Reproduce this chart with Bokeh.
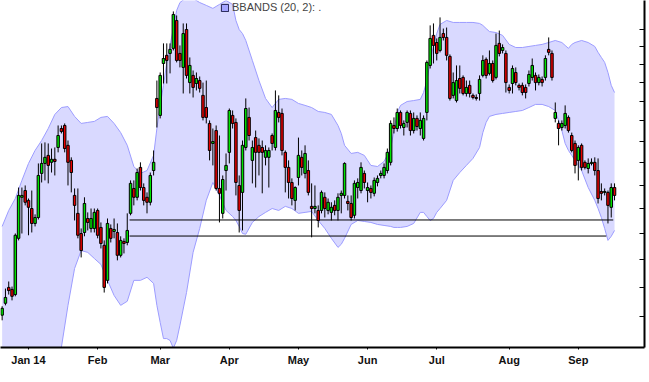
from bokeh.plotting import figure
from bokeh.models import Range1d, FixedTicker, Legend, LegendItem, ColumnDataSource
from bokeh.embed import file_html
from bokeh.resources import INLINE

# trading-day index (0 = 2 Jan 2014)
days = list(range(-8, 179))

opens = [16.04, 16.44, 16.99, 16.92, 16.74, 18.81, 20.48, 20.77,
         20.35, 20.01, 19.40, 19.64, 21.52, 21.97, 22.34, 22.02, 22.16, 22.71,
         23.62, 23.77, 22.81, 22.11, 20.56, 19.81, 19.00, 19.04, 19.60, 19.20,
         19.20, 19.93, 19.24, 18.54, 17.24, 19.20, 19.08, 19.04, 18.16, 18.69,
         18.65, 19.81, 20.86, 20.48, 21.79, 20.90, 20.48, 20.27, 21.65, 25.14,
         24.27, 27.03, 27.49, 27.60, 27.89, 29.55, 27.60, 26.81, 29.00, 25.98,
         26.37, 25.93, 26.09, 25.30, 24.67, 23.87, 22.90, 23.52, 20.86, 19.81,
         21.65, 22.48, 24.27, 23.92, 20.99, 20.69, 22.71, 24.17, 22.11, 23.18,
         22.81, 22.71, 22.25, 22.25, 23.28, 22.71, 24.42, 24.37, 22.48, 21.79,
         21.12, 20.35, 21.34, 22.25, 21.52, 21.65, 20.10, 20.01, 19.93, 19.93,
         20.48, 19.93, 19.85, 20.14, 19.93, 20.56, 20.56, 20.31, 20.22, 19.73,
         20.90, 20.77, 21.52, 20.77, 20.86, 20.65, 21.12, 21.43, 21.43, 21.65,
         22.02, 23.77, 23.62, 24.42, 23.67, 23.92, 24.37, 23.52, 24.12, 23.62,
         23.14, 24.42, 26.92, 28.65, 28.23, 27.77, 28.76, 28.53, 27.43, 25.30,
         25.03, 26.20, 26.26, 25.40, 25.83, 25.30, 25.19, 25.40, 26.37, 27.26,
         26.48, 27.03, 26.26, 28.18, 27.77, 27.60, 25.72, 25.93, 26.53, 25.83,
         25.83, 25.72, 25.93, 26.26, 26.37, 25.98, 26.15, 26.26, 27.83, 27.60,
         24.12, 23.87, 23.67, 23.77, 24.17, 23.28, 22.90, 22.11, 22.81, 22.02,
         21.74, 21.97, 22.02, 21.65, 20.73, 20.69, 20.69, 20.06, 20.90]

highs = [16.34, 16.95, 17.20, 17.02, 19.00, 20.90, 20.90, 20.99,
         20.43, 20.77, 19.77, 21.97, 22.90, 22.95, 22.90, 22.66, 22.71, 23.77,
         23.77, 23.87, 23.04, 22.25, 20.86, 20.86, 19.20, 20.48, 19.85, 20.01,
         20.01, 20.01, 19.44, 18.73, 19.60, 19.36, 19.60, 19.40, 18.89, 18.81,
         19.81, 21.21, 21.21, 21.74, 22.02, 21.08, 20.69, 21.56, 22.57, 26.09,
         26.53, 28.18, 28.18, 28.18, 30.11, 29.86, 28.06, 29.37, 29.37, 27.37,
         26.64, 26.53, 26.31, 25.98, 26.09, 24.02, 23.62, 23.77, 23.28, 21.43,
         22.43, 24.62, 24.52, 24.12, 21.43, 23.04, 25.14, 24.67, 23.04, 23.52,
         23.14, 23.04, 22.81, 22.71, 23.38, 25.56, 25.30, 24.62, 22.57, 22.11,
         21.30, 20.95, 23.18, 22.57, 22.81, 22.11, 21.08, 20.99, 20.14, 20.77,
         20.69, 20.43, 20.27, 20.35, 20.65, 20.77, 22.02, 20.56, 20.56, 21.21,
         21.30, 22.02, 21.65, 21.12, 20.99, 21.34, 21.43, 21.65, 21.97, 22.66,
         24.02, 24.17, 24.62, 24.52, 24.02, 24.52, 24.52, 24.42, 24.27, 24.42,
         24.27, 27.20, 29.25, 29.37, 28.47, 29.74, 29.06, 29.12, 27.54, 26.53,
         26.92, 26.92, 26.37, 26.09, 26.09, 25.40, 25.35, 26.37, 27.49, 27.37,
         27.77, 27.20, 28.76, 28.94, 28.12, 27.77, 25.88, 26.92, 26.81, 25.93,
         25.98, 25.88, 26.64, 27.31, 26.53, 26.42, 26.31, 27.49, 28.53, 27.77,
         24.93, 24.02, 24.02, 24.78, 24.27, 23.42, 23.04, 22.81, 22.90, 22.11,
         22.20, 22.20, 22.25, 22.20, 21.08, 20.86, 20.77, 21.08, 21.08]

lows = [15.87, 16.37, 16.74, 16.54, 16.68, 18.73, 19.00, 20.14,
        18.93, 19.04, 19.28, 19.56, 21.12, 21.21, 21.08, 21.56, 21.43, 22.48,
        23.38, 22.48, 20.99, 20.69, 19.52, 18.81, 18.08, 18.89, 19.12, 19.04,
        19.04, 18.81, 18.42, 16.81, 17.13, 18.65, 18.81, 17.97, 18.08, 18.23,
        18.54, 19.73, 20.14, 20.35, 20.77, 20.14, 19.81, 20.14, 21.43, 23.67,
        24.12, 25.93, 25.93, 26.48, 27.77, 27.09, 26.81, 25.40, 26.20, 25.40,
        25.19, 25.56, 25.45, 24.02, 23.87, 22.11, 21.88, 20.77, 19.44, 19.60,
        20.77, 21.97, 23.62, 20.56, 19.04, 19.12, 22.57, 23.04, 21.08, 20.90,
        21.43, 20.65, 21.88, 20.90, 22.57, 22.57, 23.92, 22.34, 20.69, 20.43,
        20.14, 19.93, 20.99, 21.43, 21.30, 20.56, 18.85, 19.81, 19.24, 19.81,
        19.64, 19.77, 19.52, 19.73, 19.52, 19.81, 20.43, 19.93, 19.52, 19.60,
        20.43, 20.65, 20.86, 20.27, 20.43, 20.52, 20.95, 21.30, 21.30, 21.52,
        21.88, 23.38, 23.47, 23.62, 23.28, 23.67, 23.28, 23.38, 23.52, 23.28,
        23.04, 24.02, 26.75, 27.03, 27.20, 27.66, 28.35, 27.20, 25.03, 25.14,
        24.93, 25.40, 25.30, 25.24, 25.19, 25.09, 25.03, 25.03, 26.26, 26.20,
        26.37, 25.98, 26.15, 27.43, 27.60, 25.45, 25.40, 25.40, 25.83, 25.56,
        25.30, 25.14, 25.77, 26.09, 25.56, 25.83, 25.77, 26.09, 27.49, 26.09,
        23.92, 22.81, 23.52, 23.62, 23.42, 22.48, 21.52, 21.21, 21.65, 21.70,
        21.52, 21.88, 21.43, 20.22, 20.35, 20.56, 19.40, 19.64, 20.35]

closes = [16.27, 16.64, 16.88, 16.68, 18.93, 20.56, 20.56, 20.27,
          20.06, 19.40, 19.64, 21.43, 21.97, 22.25, 21.88, 22.16, 22.06, 23.28,
          23.47, 22.66, 22.02, 21.56, 20.14, 18.93, 18.34, 20.22, 19.44, 19.60,
          19.85, 18.93, 18.61, 16.99, 19.40, 18.81, 19.16, 18.16, 18.73, 18.61,
          19.12, 21.08, 20.48, 21.56, 20.90, 20.35, 20.27, 21.43, 22.02, 24.67,
          26.37, 27.31, 27.20, 27.83, 29.92, 27.20, 27.20, 28.76, 26.37, 26.92,
          25.72, 26.20, 25.67, 24.17, 24.17, 22.57, 22.99, 20.86, 20.65, 21.25,
          21.88, 24.52, 23.87, 21.12, 19.93, 22.81, 24.62, 23.28, 22.71, 22.48,
          22.48, 22.48, 22.57, 22.57, 22.90, 24.52, 24.17, 22.57, 21.79, 21.12,
          20.43, 20.90, 22.34, 21.79, 22.43, 20.69, 20.01, 20.10, 19.52, 20.69,
          20.01, 20.27, 20.06, 19.93, 20.48, 20.65, 21.97, 20.22, 19.64, 21.08,
          21.12, 21.79, 21.12, 20.90, 20.69, 21.21, 21.30, 21.52, 21.79, 22.48,
          23.87, 23.62, 24.42, 23.77, 23.87, 24.42, 23.52, 24.12, 23.72, 24.02,
          24.12, 27.09, 28.47, 28.06, 27.60, 28.53, 28.53, 27.49, 25.14, 25.98,
          26.09, 25.67, 25.40, 25.72, 25.40, 25.19, 25.14, 26.15, 27.20, 26.37,
          27.03, 26.09, 28.06, 27.60, 27.94, 25.98, 25.56, 26.75, 25.98, 25.72,
          25.45, 25.45, 26.42, 26.92, 25.98, 26.26, 25.98, 27.31, 27.66, 26.26,
          24.42, 23.62, 23.87, 24.37, 23.52, 22.57, 21.88, 22.71, 21.79, 21.79,
          21.97, 22.02, 21.65, 20.43, 20.65, 20.73, 20.14, 20.90, 20.56]

# Bollinger band (20, 2)
band_days = [-8, -6, -4, -2, 0, 2, 4, 6, 8, 10, 12, 14, 16, 18, 20, 22, 24, 26, 28, 30,
             32, 34, 36, 38, 39, 40, 41, 42, 43, 44, 45, 46, 48, 50, 52, 54, 56, 58, 60,
             62, 63, 64, 65, 66, 68, 70, 72, 74, 76, 78, 80, 82, 84, 86, 88, 90, 92, 94,
             95, 96, 98, 100, 102, 104, 106, 108, 110, 111, 112, 113, 115, 117, 119, 120,
             121, 122, 123, 124, 125, 127, 129, 131, 133, 135, 137, 138, 139, 140, 142,
             144, 146, 148, 150, 152, 154, 156, 158, 160, 162, 163, 164, 165, 166, 168,
             170, 172, 173, 174, 175, 176, 177, 178]
band_upper = [19.28, 19.93, 20.43, 21.21, 21.97, 22.57, 23.04, 23.62, 24.32, 24.67, 24.72,
              24.22, 23.87, 23.92, 23.97, 24.17, 24.22, 23.87, 23.42, 22.81, 21.83, 21.52,
              21.65, 22.34, 23.62, 24.78, 25.83, 27.09, 28.06, 29.06, 30.17, 30.67, 31.00,
              30.93, 30.67, 30.49, 30.30, 30.55, 30.80, 30.55, 29.55, 29.00, 28.76, 28.35,
              27.20, 26.09, 25.14, 24.67, 25.09, 25.14, 25.09, 24.88, 24.78, 24.67, 24.47,
              24.42, 24.32, 23.77, 23.38, 22.81, 22.43, 22.48, 22.34, 21.88, 21.83, 22.06,
              22.66, 23.52, 24.42, 24.78, 24.98, 25.03, 25.09, 25.45, 26.09, 27.09, 28.06,
              28.76, 29.31, 29.55, 29.43, 29.43, 29.43, 29.43, 29.37, 29.25, 29.06, 28.88,
              28.82, 28.65, 28.12, 27.94, 27.94, 28.00, 28.06, 28.12, 28.23, 28.35, 28.23,
              28.06, 27.89, 28.12, 28.23, 28.35, 28.23, 28.00, 27.66, 27.37, 27.09, 26.53,
              25.83, 25.45]
band_lower = [14.42, 14.62, 14.71, 14.27, 13.64, 13.36, 13.36, 13.77, 14.39, 15.01, 16.37,
              17.67, 18.34, 18.27, 18.04, 17.82, 17.24, 16.71, 16.37, 16.51, 17.24, 17.24,
              17.35, 17.13, 16.37, 15.80, 15.28, 15.28, 15.22, 14.98, 15.22, 15.71, 16.81,
              18.27, 19.20, 20.35, 21.12, 20.56, 19.93, 19.68, 19.52, 19.28, 19.00, 18.97,
              19.44, 19.68, 19.85, 20.01, 19.93, 20.10, 20.01, 19.81, 19.85, 19.89, 19.52,
              19.20, 18.81, 18.46, 18.58, 18.81, 19.36, 19.52, 19.48, 19.44, 19.36, 19.32,
              19.28, 19.24, 19.24, 19.24, 19.28, 19.40, 19.85, 19.85, 19.68, 19.52, 19.60,
              19.85, 20.01, 20.35, 21.21, 21.56, 21.88, 22.20, 22.71, 23.42, 23.92, 24.22,
              24.32, 24.37, 24.42, 24.47, 24.52, 24.67, 24.83, 24.83, 24.72, 24.52, 23.52,
              22.90, 22.57, 22.34, 22.11, 21.65, 20.90, 20.35, 20.01, 19.64, 19.20, 18.73,
              18.89, 19.12]

# two horizontal support lines
level_values = [19.54, 18.90]
level_start = [30.7, 30.7]
level_end = [177.6, 175.5]

month_days = [0, 21, 40, 61, 82, 103, 124, 146, 167]
month_labels = ["Jan 14", "Feb", "Mar", "Apr", "May", "Jun", "Jul", "Aug", "Sep"]
price_ticks = [16, 17, 18, 19, 20, 21, 22, 23, 24, 25, 26, 27, 28, 29]

src = ColumnDataSource(dict(
    x=days, open=opens, high=highs, low=lows, close=closes,
    top=[max(o, c) for o, c in zip(opens, closes)],
    bottom=[min(o, c) for o, c in zip(opens, closes)],
    color=["#00e400" if c >= o else "#e80000" for o, c in zip(opens, closes)],
))

p = figure(width=649, height=382, output_backend="svg", toolbar_location=None,
           y_axis_type="log", y_axis_location="right",
           x_range=Range1d(-8.5, 187.1), y_range=Range1d(15.0, 30.8),
           min_border_left=0, min_border_right=5, min_border_top=0, min_border_bottom=35)
p.outline_line_color = None
p.grid.visible = False
p.background_fill_color = "white"

band = p.varea(x=band_days, y1=band_lower, y2=band_upper, fill_color="#d9d9ff", fill_alpha=1)
p.line(band_days, band_upper, line_color="#9c9cff", line_width=1)
p.line(band_days, band_lower, line_color="#9c9cff", line_width=1)

p.segment(x0=level_start, y0=level_values, x1=level_end, y1=level_values,
          line_color="black", line_width=1)

p.segment(x0="x", y0="low", x1="x", y1="high", source=src, line_color="black", line_width=1)
p.vbar(x="x", width=0.75, top="top", bottom="bottom", source=src,
       fill_color="color", line_color="black", line_width=1)

# legend swatch: a single rect placed outside the visible range
swatch = p.rect(x=[-100], y=[20], width=1, height=1,
                fill_color="#a4a4ff", line_color="#202050", line_width=1)
legend = Legend(items=[LegendItem(label="BBANDS (20, 2): .", renderers=[swatch])],
                location=(220, 334), padding=0, margin=0, spacing=0,
                glyph_width=9, glyph_height=9, label_standoff=3,
                label_text_font="Liberation Sans", label_text_font_size="11px",
                label_height=9, background_fill_alpha=0, border_line_color=None)
p.add_layout(legend)

xa = p.xaxis[0]
xa.ticker = FixedTicker(ticks=month_days)
xa.major_label_overrides = {d: l for d, l in zip(month_days, month_labels)}
xa.major_label_text_font = "Liberation Sans"
xa.major_label_text_font_style = "bold"
xa.major_label_text_font_size = "11px"
xa.major_label_text_color = "#111111"
xa.major_label_standoff = 4
xa.axis_line_width = 2
xa.axis_line_color = "black"
xa.major_tick_in = 0
xa.major_tick_out = 2
xa.major_tick_line_color = "black"
xa.minor_tick_line_color = None

ya = p.yaxis[0]
ya.ticker = FixedTicker(ticks=price_ticks)
ya.major_label_overrides = {t: "" for t in price_ticks}
ya.major_label_standoff = 0
ya.axis_line_width = 2
ya.axis_line_color = "black"
ya.major_tick_in = 5
ya.major_tick_out = 0
ya.major_tick_line_width = 1
ya.minor_tick_line_color = None

open("out.html", "w").write(file_html(p, INLINE))
